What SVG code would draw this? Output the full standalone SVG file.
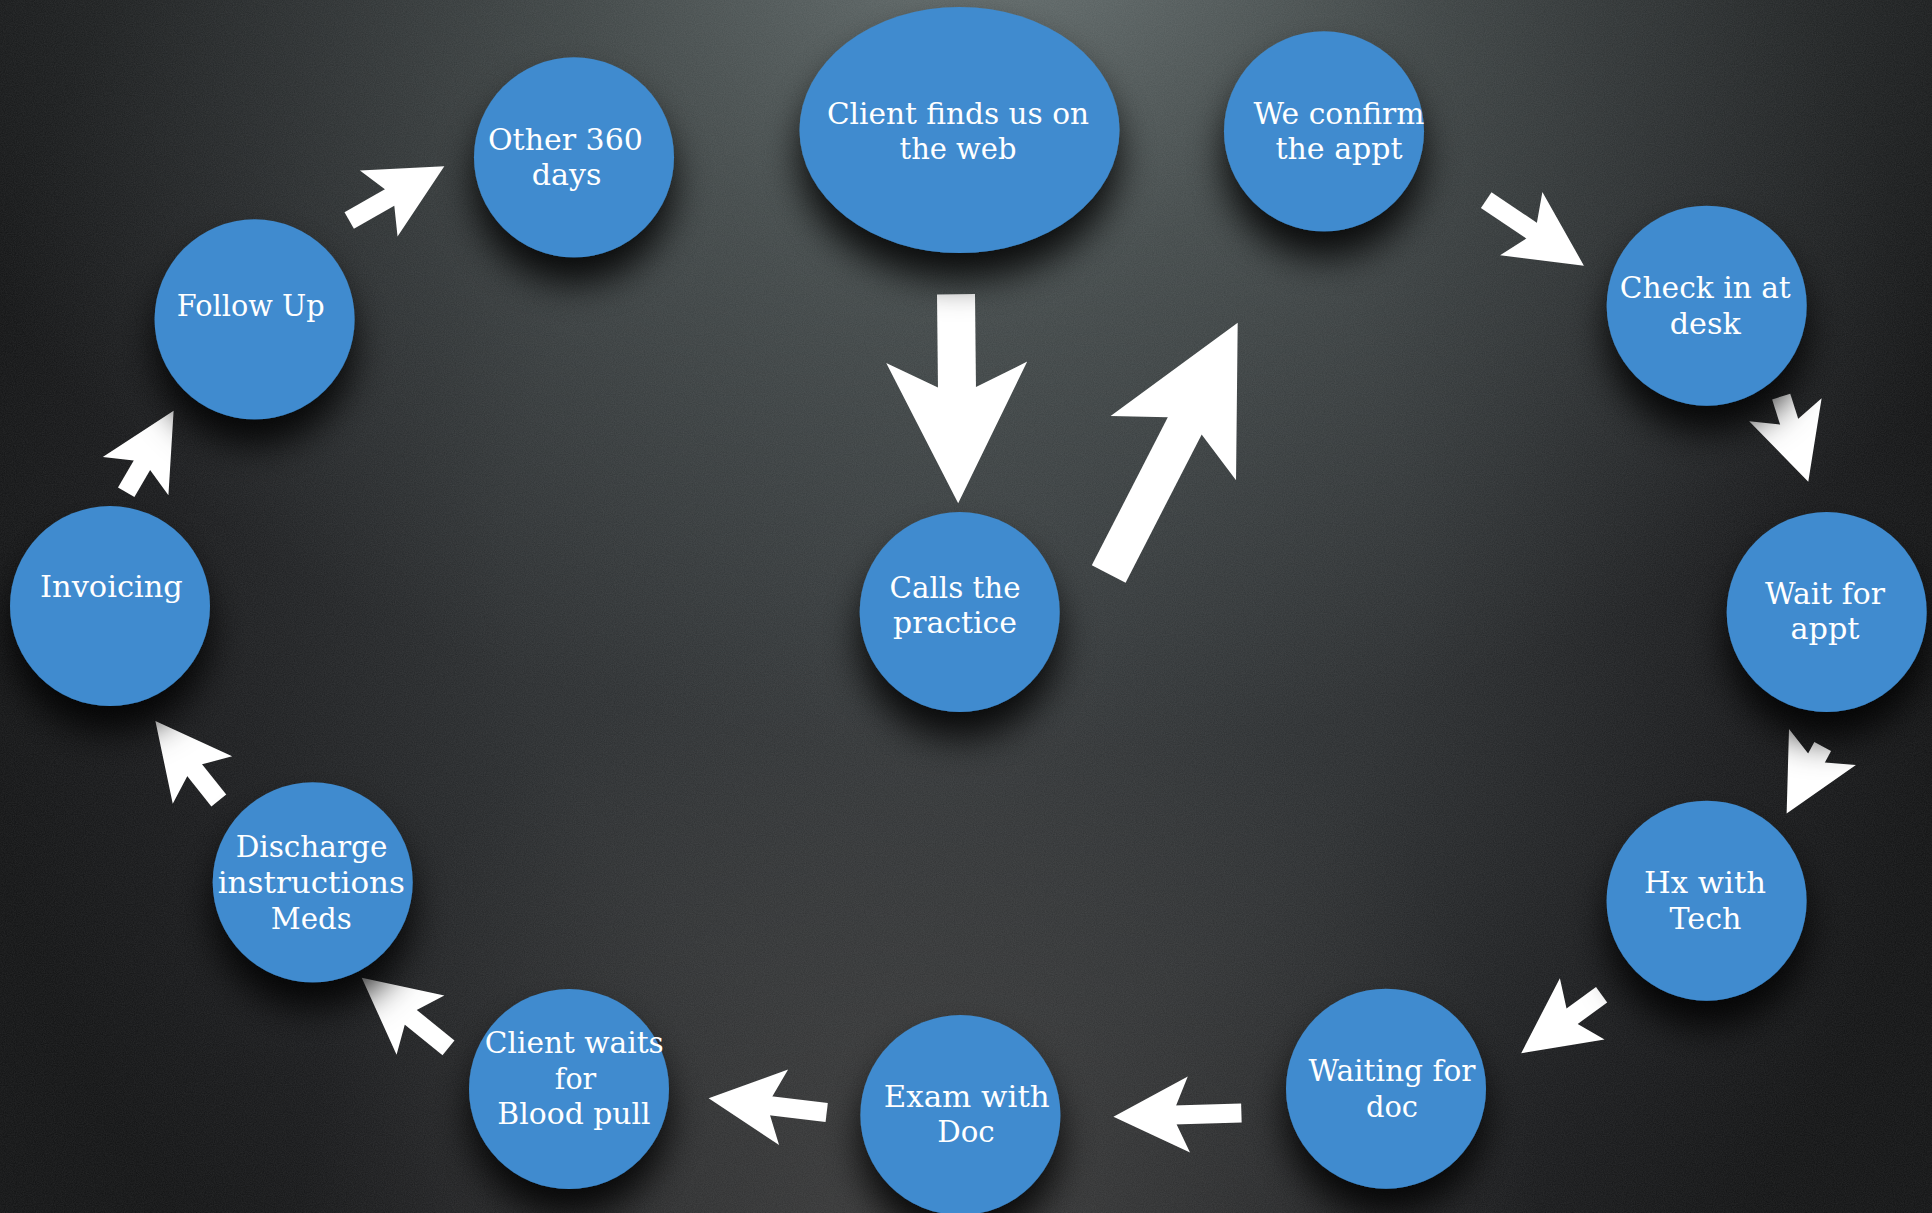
<svg xmlns="http://www.w3.org/2000/svg" width="1932" height="1213" viewBox="0 0 1932 1213">
  <defs>
    <!-- overall backdrop falloff: mid grey in the middle, near black at the sides -->
    <radialGradient id="bgBase" gradientUnits="userSpaceOnUse" cx="960" cy="560" r="1000" gradientTransform="translate(960 560) scale(1 1.05) translate(-960 -560)">
      <stop offset="0" stop-color="#34383a"/>
      <stop offset="0.45" stop-color="#2a2d2f"/>
      <stop offset="0.8" stop-color="#18191b"/>
      <stop offset="1" stop-color="#111213"/>
    </radialGradient>
    <!-- cool light spill from the top centre -->
    <radialGradient id="bgTop" gradientUnits="userSpaceOnUse" cx="1000" cy="-80" r="980" gradientTransform="translate(1000 -80) scale(1.15 0.85) translate(-1000 80)">
      <stop offset="0" stop-color="#6b7575" stop-opacity="0.95"/>
      <stop offset="0.4" stop-color="#56605f" stop-opacity="0.55"/>
      <stop offset="1" stop-color="#4a5354" stop-opacity="0"/>
    </radialGradient>
    <!-- faint light near the bottom centre -->
    <radialGradient id="bgLow" gradientUnits="userSpaceOnUse" cx="920" cy="1240" r="620">
      <stop offset="0" stop-color="#3e3e3e" stop-opacity="0.8"/>
      <stop offset="1" stop-color="#3e3e3e" stop-opacity="0"/>
    </radialGradient>
    <filter id="grain" x="0" y="0" width="100%" height="100%">
      <feTurbulence type="fractalNoise" baseFrequency="0.9" numOctaves="2" seed="7" result="n"/>
      <feColorMatrix in="n" type="matrix" values="0 0 0 0 1  0 0 0 0 1  0 0 0 0 1  0 0 0 0.09 0"/>
    </filter>
    <filter id="shadow" x="-50%" y="-50%" width="200%" height="210%">
      <feDropShadow dx="0" dy="26" stdDeviation="18" flood-color="#000" flood-opacity="0.85"/>
    </filter>
    <marker id="head" viewBox="-15 -40 80 80" markerWidth="80" markerHeight="80" refX="3" refY="0" markerUnits="userSpaceOnUse" orient="auto">
      <path d="M63,0 L-12.5,38 L0,9.5 L0,-9.5 L-12.5,-38 Z" fill="#fff"/>
    </marker>
    <marker id="headBig" viewBox="-30 -75 150 150" markerWidth="150" markerHeight="150" refX="3" refY="0" markerUnits="userSpaceOnUse" orient="auto">
      <path d="M116,0 L-25,70.5 L0,19 L0,-19 L-25,-70.5 Z" fill="#fff"/>
    </marker>
  </defs>
  <style>
    .node { fill: #3f8bcf; filter: url(#shadow); }
    .lbl { font-family: "DejaVu Serif", "Liberation Serif", serif; font-size: 30px; fill: #ffffff; text-anchor: middle; }
    .conn { stroke: #ffffff; stroke-width: 19; fill: none; marker-end: url(#head); }
    .conn.big { stroke-width: 38; marker-end: url(#headBig); }
  </style>

  <!-- backdrop -->
  <rect x="0" y="0" width="1932" height="1213" fill="url(#bgBase)"/>
  <rect x="0" y="0" width="1932" height="1213" fill="url(#bgTop)"/>
  <rect x="0" y="0" width="1932" height="1213" fill="url(#bgLow)"/>
  <rect x="0" y="0" width="1932" height="1213" filter="url(#grain)"/>

  <!-- flow arrows -->
  <g id="connectors">
    <line class="conn big" x1="956" y1="294.3" x2="957" y2="390.3"/>
    <line class="conn big" x1="1108.7" y1="574" x2="1186.1" y2="423.2"/>
    <line class="conn" x1="1486.2" y1="200.2" x2="1534.1" y2="232.3"/>
    <line class="conn" x1="1781.2" y1="396.6" x2="1790.1" y2="424.6"/>
    <line class="conn" x1="1822.7" y1="746.5" x2="1815.1" y2="760.6"/>
    <line class="conn" x1="1601.6" y1="994.8" x2="1569.7" y2="1018"/>
    <line class="conn" x1="1241.4" y1="1113" x2="1173.4" y2="1115"/>
    <line class="conn" x1="826.7" y1="1112.5" x2="768.2" y2="1105.5"/>
    <line class="conn" x1="448.5" y1="1047.8" x2="408.4" y2="1015.4"/>
    <line class="conn" x1="218.8" y1="800.5" x2="192.8" y2="767.9"/>
    <line class="conn" x1="126.2" y1="492.2" x2="143.4" y2="462.7"/>
    <line class="conn" x1="349.2" y1="220.4" x2="392.2" y2="195.9"/>
  </g>

  <g id="n-web">
    <ellipse class="node" cx="959.5" cy="130" rx="160" ry="123"/>
    <text class="lbl" x="958" y="124" textLength="262" lengthAdjust="spacingAndGlyphs">Client finds us on</text>
    <text class="lbl" x="958" y="159" textLength="117" lengthAdjust="spacingAndGlyphs">the web</text>
  </g>

  <g id="n-calls">
    <circle class="node" cx="959.7" cy="612" r="100"/>
    <text class="lbl" x="955" y="598" textLength="131" lengthAdjust="spacingAndGlyphs">Calls the</text>
    <text class="lbl" x="955" y="633" textLength="124" lengthAdjust="spacingAndGlyphs">practice</text>
  </g>

  <g id="n-confirm">
    <circle class="node" cx="1324" cy="131.3" r="100"/>
    <text class="lbl" x="1339" y="124" textLength="171" lengthAdjust="spacingAndGlyphs">We confirm</text>
    <text class="lbl" x="1339" y="159" textLength="127" lengthAdjust="spacingAndGlyphs">the appt</text>
  </g>

  <g id="n-checkin">
    <circle class="node" cx="1706.7" cy="305.7" r="100"/>
    <text class="lbl" x="1705.3" y="298" textLength="171" lengthAdjust="spacingAndGlyphs">Check in at</text>
    <text class="lbl" x="1705.3" y="333.6" textLength="71" lengthAdjust="spacingAndGlyphs">desk</text>
  </g>

  <g id="n-wait">
    <circle class="node" cx="1826.7" cy="612" r="100"/>
    <text class="lbl" x="1825" y="604.3" textLength="120" lengthAdjust="spacingAndGlyphs">Wait for</text>
    <text class="lbl" x="1825" y="639" textLength="69" lengthAdjust="spacingAndGlyphs">appt</text>
  </g>

  <g id="n-hx">
    <circle class="node" cx="1706.6" cy="900.7" r="100"/>
    <text class="lbl" x="1705" y="892.7" textLength="122" lengthAdjust="spacingAndGlyphs">Hx with</text>
    <text class="lbl" x="1705.5" y="928.7" textLength="72" lengthAdjust="spacingAndGlyphs">Tech</text>
  </g>

  <g id="n-waitdoc">
    <circle class="node" cx="1386" cy="1088.7" r="100"/>
    <text class="lbl" x="1392" y="1080.7" textLength="167" lengthAdjust="spacingAndGlyphs">Waiting for</text>
    <text class="lbl" x="1392" y="1116.7" textLength="52" lengthAdjust="spacingAndGlyphs">doc</text>
  </g>

  <g id="n-exam">
    <circle class="node" cx="960.4" cy="1115" r="100"/>
    <text class="lbl" x="966.7" y="1106.7" textLength="166" lengthAdjust="spacingAndGlyphs">Exam with</text>
    <text class="lbl" x="966" y="1142.3" textLength="57.5" lengthAdjust="spacingAndGlyphs">Doc</text>
  </g>

  <g id="n-blood">
    <circle class="node" cx="569" cy="1089" r="100"/>
    <text class="lbl" x="574.3" y="1052.7" textLength="179" lengthAdjust="spacingAndGlyphs">Client waits</text>
    <text class="lbl" x="575.5" y="1088.7" textLength="41.3" lengthAdjust="spacingAndGlyphs">for</text>
    <text class="lbl" x="574" y="1124" textLength="153.3" lengthAdjust="spacingAndGlyphs">Blood pull</text>
  </g>

  <g id="n-discharge">
    <circle class="node" cx="312.7" cy="882.3" r="100"/>
    <text class="lbl" x="311.5" y="856.7" textLength="151.7" lengthAdjust="spacingAndGlyphs">Discharge</text>
    <text class="lbl" x="311.3" y="892.7" textLength="187.3" lengthAdjust="spacingAndGlyphs">instructions</text>
    <text class="lbl" x="311.2" y="928.7" textLength="81" lengthAdjust="spacingAndGlyphs">Meds</text>
  </g>

  <g id="n-invoice">
    <circle class="node" cx="110" cy="606" r="100"/>
    <text class="lbl" x="111.4" y="597" textLength="142.7" lengthAdjust="spacingAndGlyphs">Invoicing</text>
  </g>

  <g id="n-followup">
    <circle class="node" cx="254.6" cy="319.3" r="100"/>
    <text class="lbl" x="250.7" y="316" textLength="147.8" lengthAdjust="spacingAndGlyphs">Follow Up</text>
  </g>

  <g id="n-other">
    <circle class="node" cx="574" cy="157.3" r="100"/>
    <text class="lbl" x="565.4" y="149.7" textLength="154.8" lengthAdjust="spacingAndGlyphs">Other 360</text>
    <text class="lbl" x="566.6" y="184.6" textLength="69.8" lengthAdjust="spacingAndGlyphs">days</text>
  </g>
</svg>
